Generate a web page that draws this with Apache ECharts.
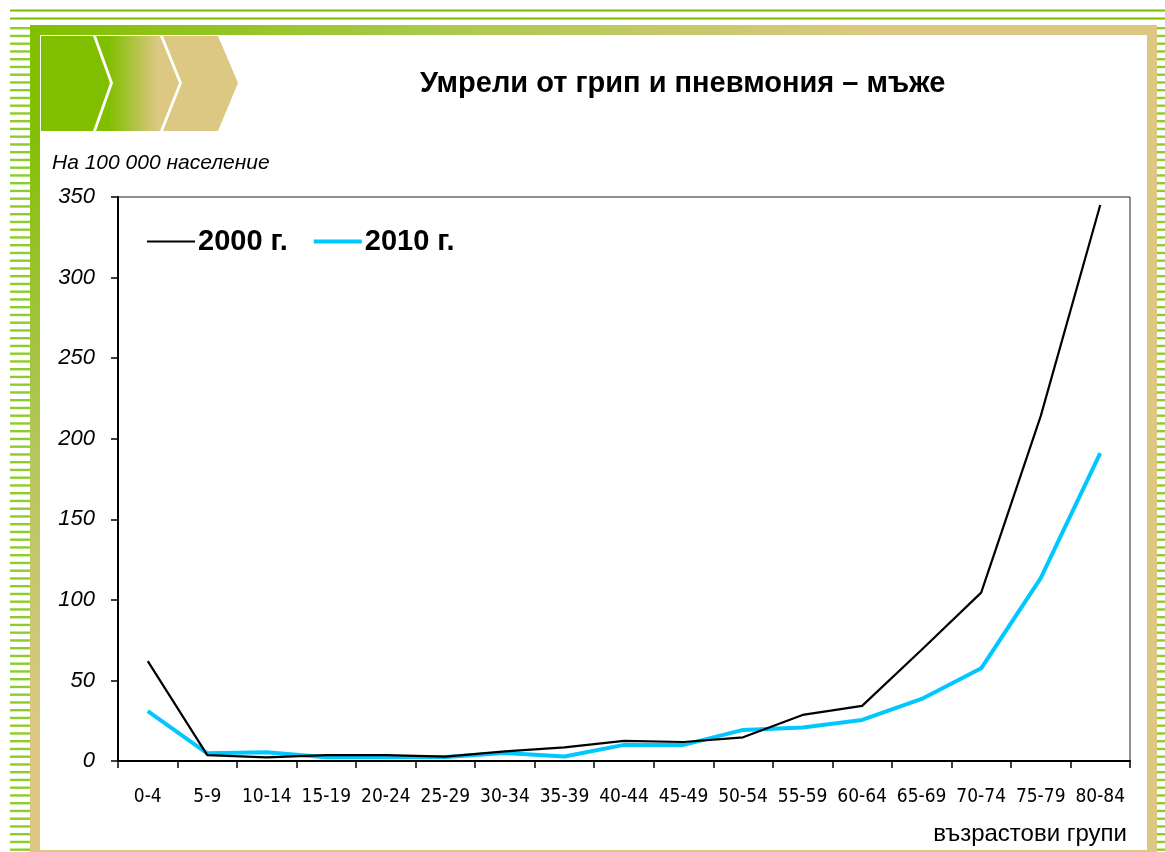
<!DOCTYPE html>
<html>
<head>
<meta charset="utf-8">
<script src="https://cdn.jsdelivr.net/npm/echarts@6/dist/echarts.min.js"></script>
<style>
html,body{margin:0;padding:0;background:#fff;}
#chart{width:1165px;height:852px;}
</style>
</head>
<body>
<div id="chart"></div>
<script>
// ---- data ----
var categories = ['0-4','5-9','10-14','15-19','20-24','25-29','30-34','35-39','40-44','45-49','50-54','55-59','60-64','65-69','70-74','75-79','80-84'];
var values2000 = [62, 3.7, 2.3, 3.7, 3.7, 2.7, 6, 8.5, 12.5, 11.8, 14.7, 28.6, 34.2, 69, 104.5, 214, 345];
var values2010 = [31, 4.8, 5.4, 2.3, 2.3, 2.5, 5, 2.8, 10, 10, 19.3, 20.8, 25.5, 38.5, 57.5, 113.5, 191];
var seriesNames = ['2000 г.', '2010 г.'];
var yTicks = {min: 0, max: 350, interval: 50};
var titleText = 'Умрели от грип и пневмония – мъже';
var unitText = 'На 100 000 население';
var xAxisTitle = 'възрастови групи';

// ---- decoration ----
var GREEN = '#80bf00', TAN = '#dcc883', STRIPE = '#8ccd2a';
var W = 1165, H = 852;
var deco = [];
[9, 17].forEach(function (y) {
  deco.push({type: 'rect', shape: {x: 10, y: y, width: W - 10, height: 3}, style: {fill: '#b5e06a'}, silent: true});
  deco.push({type: 'rect', shape: {x: 10, y: y + 1, width: W - 10, height: 1}, style: {fill: '#7cc000'}, silent: true});
});
for (var y = 27; y < H; y += 7.75) {
  deco.push({type: 'rect', shape: {x: 10, y: y, width: 20, height: 2.4}, style: {fill: STRIPE}, silent: true});
  deco.push({type: 'rect', shape: {x: 1157, y: y, width: 8, height: 2.4}, style: {fill: STRIPE}, silent: true});
}
deco.push({type: 'rect', shape: {x: 30, y: 25, width: 1127, height: 10}, silent: true,
  style: {fill: new echarts.graphic.LinearGradient(0, 0, 1, 0, [{offset: 0, color: GREEN}, {offset: 0.35, color: '#a9c94a'}, {offset: 0.75, color: TAN}, {offset: 1, color: TAN}])}});
deco.push({type: 'rect', shape: {x: 30, y: 25, width: 10, height: H - 25}, silent: true,
  style: {fill: new echarts.graphic.LinearGradient(0, 0, 0, 1, [{offset: 0, color: GREEN}, {offset: 0.1, color: GREEN}, {offset: 0.5, color: '#b3c659'}, {offset: 0.85, color: TAN}, {offset: 1, color: TAN}])}});
deco.push({type: 'rect', shape: {x: 1147, y: 25, width: 10, height: H - 25}, style: {fill: TAN}, silent: true});
deco.push({type: 'rect', shape: {x: 30, y: 850, width: 1127, height: 2}, style: {fill: TAN}, silent: true});
deco.push({type: 'polygon', silent: true, shape: {points: [[41, 36], [93, 36], [110, 83], [93, 131], [41, 131]]}, style: {fill: GREEN}});
deco.push({type: 'polygon', silent: true, shape: {points: [[96, 36], [160, 36], [179, 83], [160, 131], [96, 131], [113, 83]]},
  style: {fill: new echarts.graphic.LinearGradient(0, 0, 1, 0, [{offset: 0, color: GREEN}, {offset: 0.15, color: GREEN}, {offset: 0.75, color: TAN}, {offset: 1, color: TAN}])}});
deco.push({type: 'polygon', silent: true, shape: {points: [[163, 36], [218, 36], [238, 83], [218, 131], [163, 131], [182, 83]]}, style: {fill: TAN}});

var chart = echarts.init(document.getElementById('chart'), null, {renderer: 'canvas'});
chart.setOption({
  backgroundColor: '#fff',
  animation: false,
  graphic: deco,
  title: [
    {text: titleText, left: 420, top: 69, padding: 0, textStyle: {fontFamily: 'Liberation Sans, Arial, sans-serif', fontSize: 29, fontWeight: 'bold', color: '#000'}},
    {text: unitText, left: 52, top: 153, padding: 0, textStyle: {fontFamily: 'Liberation Sans, Arial, sans-serif', fontSize: 21, fontStyle: 'italic', fontWeight: 'normal', color: '#000'}},
    {text: xAxisTitle, right: 38, top: 822, padding: 0, textStyle: {fontFamily: 'Liberation Sans, Arial, sans-serif', fontSize: 24, fontWeight: 'normal', color: '#000'}}
  ],
  legend: {
    left: 142, top: 222,
    itemWidth: 48, itemHeight: 14, itemGap: 26,
    data: [
      {name: seriesNames[0], icon: 'path://M0,6 L46,6 L46,8 L0,8 Z'},
      {name: seriesNames[1], icon: 'path://M0,5 L46,5 L46,9 L0,9 Z'}
    ],
    textStyle: {fontFamily: 'Liberation Sans, Arial, sans-serif', fontSize: 29, fontWeight: 'bold', color: '#000', padding: [0, 0, 0, -2]}
  },
  grid: {left: 118, right: 35, top: 197, bottom: 91, show: true, borderColor: '#222', borderWidth: 1, backgroundColor: 'transparent'},
  xAxis: {
    type: 'category', data: categories, boundaryGap: true,
    axisLine: {lineStyle: {color: '#000', width: 2}},
    axisTick: {show: true, length: 7, lineStyle: {color: '#000', width: 1.5}},
    axisLabel: {margin: 27, fontFamily: 'DejaVu Sans Condensed, Liberation Sans Narrow, Liberation Sans, sans-serif', fontSize: 19, color: '#000', interval: 0},
    splitLine: {show: false}
  },
  yAxis: {
    type: 'value', min: yTicks.min, max: yTicks.max, interval: yTicks.interval,
    axisLine: {show: true, lineStyle: {color: '#000', width: 2}},
    axisTick: {show: true, length: 7, lineStyle: {color: '#000', width: 1.5}},
    axisLabel: {margin: 23, fontFamily: 'Liberation Sans, Arial, sans-serif', fontSize: 22, fontStyle: 'italic', color: '#000'},
    splitLine: {show: false}
  },
  series: [
    {name: seriesNames[0], type: 'line', data: values2000, symbol: 'none', lineStyle: {color: '#000', width: 2.2}, itemStyle: {color: '#000'}, z: 3},
    {name: seriesNames[1], type: 'line', data: values2010, symbol: 'none', lineStyle: {color: '#00c8ff', width: 4}, itemStyle: {color: '#00c8ff'}, z: 2}
  ]
});
</script>
</body>
</html>
